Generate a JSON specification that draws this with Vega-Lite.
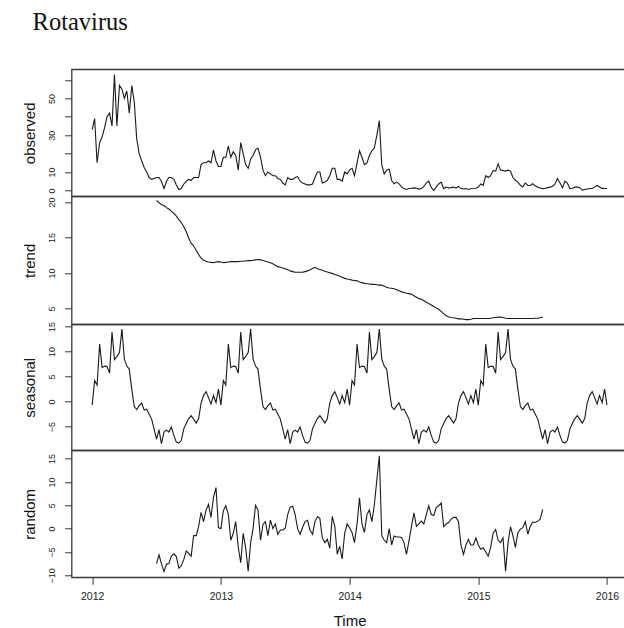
{
  "$schema": "https://vega.github.io/schema/vega-lite/v6.json",
  "padding": {"left": 21.6, "top": 9.3, "right": 0, "bottom": 0},
  "title": {
    "text": "Rotavirus",
    "font": "Liberation Serif",
    "fontSize": 24.5,
    "fontWeight": "normal",
    "color": "#111111",
    "anchor": "start",
    "frame": "group",
    "dx": -39,
    "offset": 33
  },
  "data": {
    "values": [
      {"time": 2012.000, "observed": 33, "seasonal": -0.7},
      {"time": 2012.019, "observed": 39, "seasonal": 4.2},
      {"time": 2012.038, "observed": 15, "seasonal": 3.3},
      {"time": 2012.058, "observed": 26, "seasonal": 11.5},
      {"time": 2012.077, "observed": 29, "seasonal": 6.8},
      {"time": 2012.096, "observed": 34, "seasonal": 7.1},
      {"time": 2012.115, "observed": 40, "seasonal": 7.0},
      {"time": 2012.135, "observed": 42, "seasonal": 5.7},
      {"time": 2012.154, "observed": 35, "seasonal": 13.9},
      {"time": 2012.173, "observed": 63, "seasonal": 8.4},
      {"time": 2012.192, "observed": 35, "seasonal": 9.0},
      {"time": 2012.212, "observed": 57, "seasonal": 9.8},
      {"time": 2012.231, "observed": 55, "seasonal": 14.5},
      {"time": 2012.250, "observed": 50, "seasonal": 8.5},
      {"time": 2012.269, "observed": 54, "seasonal": 7.1},
      {"time": 2012.288, "observed": 42, "seasonal": 6.5},
      {"time": 2012.308, "observed": 57, "seasonal": 2.4},
      {"time": 2012.327, "observed": 48, "seasonal": -1.0},
      {"time": 2012.346, "observed": 28, "seasonal": -1.6},
      {"time": 2012.365, "observed": 20, "seasonal": -0.8},
      {"time": 2012.385, "observed": 16, "seasonal": -0.3},
      {"time": 2012.404, "observed": 12.5, "seasonal": -1.7},
      {"time": 2012.423, "observed": 10, "seasonal": -1.5},
      {"time": 2012.442, "observed": 7, "seasonal": -2.5},
      {"time": 2012.462, "observed": 6, "seasonal": -3.5},
      {"time": 2012.481, "observed": 6.5, "seasonal": -5.5},
      {"time": 2012.500, "observed": 7, "seasonal": -7.5, "trend": 20.2, "random": -7.5},
      {"time": 2012.519, "observed": 7, "seasonal": -5.6, "trend": 19.9, "random": -5.6},
      {"time": 2012.538, "observed": 5, "seasonal": -8.4, "trend": 19.6, "random": -7.5},
      {"time": 2012.558, "observed": 1, "seasonal": -6.1, "trend": 19.5, "random": -9.2},
      {"time": 2012.577, "observed": 5, "seasonal": -5.7, "trend": 19.2, "random": -7.6},
      {"time": 2012.596, "observed": 7, "seasonal": -6.1, "trend": 19.0, "random": -7.5},
      {"time": 2012.615, "observed": 7, "seasonal": -5.1, "trend": 18.7, "random": -5.9},
      {"time": 2012.635, "observed": 6, "seasonal": -6.8, "trend": 18.4, "random": -5.4},
      {"time": 2012.654, "observed": 3, "seasonal": -8.1, "trend": 18.0, "random": -6.0},
      {"time": 2012.673, "observed": 0.5, "seasonal": -8.3, "trend": 17.5, "random": -8.5},
      {"time": 2012.692, "observed": 1, "seasonal": -7.8, "trend": 17.1, "random": -8.0},
      {"time": 2012.712, "observed": 3.5, "seasonal": -5.4, "trend": 16.5, "random": -6.6},
      {"time": 2012.731, "observed": 5, "seasonal": -4.4, "trend": 15.8, "random": -4.8},
      {"time": 2012.750, "observed": 6, "seasonal": -3.4, "trend": 14.9, "random": -5.3},
      {"time": 2012.769, "observed": 5.5, "seasonal": -2.8, "trend": 14.2, "random": -5.9},
      {"time": 2012.788, "observed": 7, "seasonal": -3.5, "trend": 13.8, "random": -1.5},
      {"time": 2012.808, "observed": 7, "seasonal": -4.3, "trend": 13.2, "random": -1.5},
      {"time": 2012.827, "observed": 7, "seasonal": -3.4, "trend": 12.6, "random": 0.5},
      {"time": 2012.846, "observed": 14, "seasonal": -0.3, "trend": 12.1, "random": 3.5},
      {"time": 2012.865, "observed": 15, "seasonal": 1.2, "trend": 11.8, "random": 1.5},
      {"time": 2012.885, "observed": 15, "seasonal": 2.0, "trend": 11.65, "random": 4.0},
      {"time": 2012.904, "observed": 16, "seasonal": 0.8, "trend": 11.55, "random": 5.2},
      {"time": 2012.923, "observed": 15, "seasonal": -0.5, "trend": 11.5, "random": 2.4},
      {"time": 2012.942, "observed": 22, "seasonal": 1.2, "trend": 11.45, "random": 6.6},
      {"time": 2012.962, "observed": 16, "seasonal": -0.2, "trend": 11.55, "random": 8.8},
      {"time": 2012.981, "observed": 13, "seasonal": 2.5, "trend": 11.6, "random": 0.2},
      {"time": 2013.000, "observed": 13, "seasonal": -0.7, "trend": 11.55, "random": 0.0},
      {"time": 2013.019, "observed": 18, "seasonal": 4.2, "trend": 11.45, "random": 3.8},
      {"time": 2013.038, "observed": 18, "seasonal": 3.3, "trend": 11.5, "random": 4.9},
      {"time": 2013.058, "observed": 24, "seasonal": 11.5, "trend": 11.55, "random": 3.0},
      {"time": 2013.077, "observed": 18, "seasonal": 6.8, "trend": 11.6, "random": -2.5},
      {"time": 2013.096, "observed": 21, "seasonal": 7.1, "trend": 11.6, "random": -1.0},
      {"time": 2013.115, "observed": 19, "seasonal": 7.0, "trend": 11.6, "random": 1.5},
      {"time": 2013.135, "observed": 11, "seasonal": 5.7, "trend": 11.6, "random": -4.0},
      {"time": 2013.154, "observed": 26, "seasonal": 13.9, "trend": 11.65, "random": -7.3},
      {"time": 2013.173, "observed": 20, "seasonal": 8.4, "trend": 11.65, "random": -1.0},
      {"time": 2013.192, "observed": 14, "seasonal": 9.0, "trend": 11.7, "random": -4.0},
      {"time": 2013.212, "observed": 12, "seasonal": 9.8, "trend": 11.75, "random": -9.1},
      {"time": 2013.231, "observed": 17, "seasonal": 14.5, "trend": 11.75, "random": -3.0},
      {"time": 2013.250, "observed": 19, "seasonal": 8.5, "trend": 11.8, "random": 0.0},
      {"time": 2013.269, "observed": 22, "seasonal": 7.1, "trend": 11.85, "random": 5.0},
      {"time": 2013.288, "observed": 23, "seasonal": 6.5, "trend": 11.9, "random": 4.0},
      {"time": 2013.308, "observed": 18, "seasonal": 2.4, "trend": 11.85, "random": -2.5},
      {"time": 2013.327, "observed": 11, "seasonal": -1.0, "trend": 11.75, "random": 0.9},
      {"time": 2013.346, "observed": 8, "seasonal": -1.6, "trend": 11.65, "random": 1.5},
      {"time": 2013.365, "observed": 10, "seasonal": -0.8, "trend": 11.55, "random": -1.5},
      {"time": 2013.385, "observed": 9, "seasonal": -0.3, "trend": 11.45, "random": 1.8},
      {"time": 2013.404, "observed": 8, "seasonal": -1.7, "trend": 11.3, "random": 0.0},
      {"time": 2013.423, "observed": 8, "seasonal": -1.5, "trend": 11.1, "random": 1.0},
      {"time": 2013.442, "observed": 6.5, "seasonal": -2.5, "trend": 10.9, "random": -1.2},
      {"time": 2013.462, "observed": 6, "seasonal": -3.5, "trend": 10.8, "random": -0.3},
      {"time": 2013.481, "observed": 4, "seasonal": -5.5, "trend": 10.7, "random": -0.3},
      {"time": 2013.500, "observed": 3, "seasonal": -7.5, "trend": 10.6, "random": 0.1},
      {"time": 2013.519, "observed": 7, "seasonal": -5.6, "trend": 10.45, "random": 3.0},
      {"time": 2013.538, "observed": 6, "seasonal": -8.4, "trend": 10.3, "random": 4.6},
      {"time": 2013.558, "observed": 6, "seasonal": -6.1, "trend": 10.2, "random": 4.8},
      {"time": 2013.577, "observed": 7, "seasonal": -5.7, "trend": 10.1, "random": 3.0},
      {"time": 2013.596, "observed": 7.5, "seasonal": -6.1, "trend": 10.1, "random": 0.0},
      {"time": 2013.615, "observed": 5, "seasonal": -5.1, "trend": 10.1, "random": -1.2},
      {"time": 2013.635, "observed": 4, "seasonal": -6.8, "trend": 10.1, "random": 0.3},
      {"time": 2013.654, "observed": 3.5, "seasonal": -8.1, "trend": 10.2, "random": 1.5},
      {"time": 2013.673, "observed": 3, "seasonal": -8.3, "trend": 10.3, "random": 1.8},
      {"time": 2013.692, "observed": 3, "seasonal": -7.8, "trend": 10.45, "random": -0.3},
      {"time": 2013.712, "observed": 3.5, "seasonal": -5.4, "trend": 10.65, "random": -1.2},
      {"time": 2013.731, "observed": 7, "seasonal": -4.4, "trend": 10.8, "random": 1.5},
      {"time": 2013.750, "observed": 10, "seasonal": -3.4, "trend": 10.6, "random": 2.6},
      {"time": 2013.769, "observed": 10, "seasonal": -2.8, "trend": 10.5, "random": 2.2},
      {"time": 2013.788, "observed": 4, "seasonal": -3.5, "trend": 10.4, "random": -2.0},
      {"time": 2013.808, "observed": 4.5, "seasonal": -4.3, "trend": 10.25, "random": -3.0},
      {"time": 2013.827, "observed": 5.5, "seasonal": -3.4, "trend": 10.15, "random": -2.3},
      {"time": 2013.846, "observed": 8, "seasonal": -0.3, "trend": 10.05, "random": -4.2},
      {"time": 2013.865, "observed": 12, "seasonal": 1.2, "trend": 9.95, "random": 2.6},
      {"time": 2013.885, "observed": 12, "seasonal": 2.0, "trend": 9.8, "random": 0.5},
      {"time": 2013.904, "observed": 6, "seasonal": 0.8, "trend": 9.7, "random": -5.5},
      {"time": 2013.923, "observed": 6, "seasonal": -0.5, "trend": 9.55, "random": -3.8},
      {"time": 2013.942, "observed": 5, "seasonal": 1.2, "trend": 9.4, "random": -6.5},
      {"time": 2013.962, "observed": 10, "seasonal": -0.2, "trend": 9.25, "random": -1.0},
      {"time": 2013.981, "observed": 9, "seasonal": 2.5, "trend": 9.15, "random": 1.0},
      {"time": 2014.000, "observed": 11, "seasonal": -0.7, "trend": 9.1, "random": 0.2},
      {"time": 2014.019, "observed": 12, "seasonal": 4.2, "trend": 9.0, "random": -0.8},
      {"time": 2014.038, "observed": 8, "seasonal": 3.3, "trend": 8.95, "random": -3.0},
      {"time": 2014.058, "observed": 15, "seasonal": 11.5, "trend": 8.9, "random": 1.0},
      {"time": 2014.077, "observed": 21.5, "seasonal": 6.8, "trend": 8.75, "random": 6.6},
      {"time": 2014.096, "observed": 18, "seasonal": 7.1, "trend": 8.65, "random": 1.0},
      {"time": 2014.115, "observed": 14, "seasonal": 7.0, "trend": 8.55, "random": -0.8},
      {"time": 2014.135, "observed": 15, "seasonal": 5.7, "trend": 8.5, "random": 3.0},
      {"time": 2014.154, "observed": 19, "seasonal": 13.9, "trend": 8.45, "random": 4.0},
      {"time": 2014.173, "observed": 21.5, "seasonal": 8.4, "trend": 8.4, "random": 1.5},
      {"time": 2014.192, "observed": 23, "seasonal": 9.0, "trend": 8.4, "random": 5.0},
      {"time": 2014.212, "observed": 30, "seasonal": 9.8, "trend": 8.35, "random": 10.5},
      {"time": 2014.231, "observed": 38, "seasonal": 14.5, "trend": 8.3, "random": 15.6},
      {"time": 2014.250, "observed": 14, "seasonal": 8.5, "trend": 8.3, "random": -1.5},
      {"time": 2014.269, "observed": 9, "seasonal": 7.1, "trend": 8.15, "random": -2.5},
      {"time": 2014.288, "observed": 11, "seasonal": 6.5, "trend": 8.0, "random": -3.0},
      {"time": 2014.308, "observed": 11.5, "seasonal": 2.4, "trend": 7.9, "random": 0.0},
      {"time": 2014.327, "observed": 5.4, "seasonal": -1.0, "trend": 7.85, "random": -3.5},
      {"time": 2014.346, "observed": 3.6, "seasonal": -1.6, "trend": 7.8, "random": -1.6},
      {"time": 2014.365, "observed": 4.5, "seasonal": -0.8, "trend": 7.65, "random": -1.8},
      {"time": 2014.385, "observed": 3.6, "seasonal": -0.3, "trend": 7.5, "random": -1.8},
      {"time": 2014.404, "observed": 1.8, "seasonal": -1.7, "trend": 7.35, "random": -1.9},
      {"time": 2014.423, "observed": 1, "seasonal": -1.5, "trend": 7.25, "random": -3.0},
      {"time": 2014.442, "observed": 0.5, "seasonal": -2.5, "trend": 7.15, "random": -5.5},
      {"time": 2014.462, "observed": 1, "seasonal": -3.5, "trend": 7.1, "random": -2.5},
      {"time": 2014.481, "observed": 1.2, "seasonal": -5.5, "trend": 7.0, "random": 0.5},
      {"time": 2014.500, "observed": 1.4, "seasonal": -7.5, "trend": 6.8, "random": 3.4},
      {"time": 2014.519, "observed": 1.2, "seasonal": -5.6, "trend": 6.6, "random": 0.5},
      {"time": 2014.538, "observed": 0.7, "seasonal": -8.4, "trend": 6.4, "random": 1.0},
      {"time": 2014.558, "observed": 1, "seasonal": -6.1, "trend": 6.3, "random": 1.6},
      {"time": 2014.577, "observed": 2.2, "seasonal": -5.7, "trend": 6.1, "random": 1.0},
      {"time": 2014.596, "observed": 4, "seasonal": -6.1, "trend": 5.9, "random": 3.0},
      {"time": 2014.615, "observed": 5, "seasonal": -5.1, "trend": 5.7, "random": 4.9},
      {"time": 2014.635, "observed": 1.5, "seasonal": -6.8, "trend": 5.5, "random": 3.0},
      {"time": 2014.654, "observed": 0, "seasonal": -8.1, "trend": 5.3, "random": 2.8},
      {"time": 2014.673, "observed": 1.8, "seasonal": -8.3, "trend": 5.1, "random": 4.5},
      {"time": 2014.692, "observed": 3.5, "seasonal": -7.8, "trend": 4.9, "random": 4.9},
      {"time": 2014.712, "observed": 4.5, "seasonal": -5.4, "trend": 4.6, "random": 5.5},
      {"time": 2014.731, "observed": 1, "seasonal": -4.4, "trend": 4.3, "random": 0.4},
      {"time": 2014.750, "observed": 1.8, "seasonal": -3.4, "trend": 4.0, "random": 1.0},
      {"time": 2014.769, "observed": 1.4, "seasonal": -2.8, "trend": 3.85, "random": 1.3},
      {"time": 2014.788, "observed": 1.5, "seasonal": -3.5, "trend": 3.75, "random": 2.0},
      {"time": 2014.808, "observed": 1.8, "seasonal": -4.3, "trend": 3.7, "random": 2.4},
      {"time": 2014.827, "observed": 1.3, "seasonal": -3.4, "trend": 3.65, "random": 2.4},
      {"time": 2014.846, "observed": 2.2, "seasonal": -0.3, "trend": 3.55, "random": 1.5},
      {"time": 2014.865, "observed": 1, "seasonal": 1.2, "trend": 3.55, "random": -3.5},
      {"time": 2014.885, "observed": 0.8, "seasonal": 2.0, "trend": 3.5, "random": -5.5},
      {"time": 2014.904, "observed": 1, "seasonal": 0.8, "trend": 3.45, "random": -3.5},
      {"time": 2014.923, "observed": 0.5, "seasonal": -0.5, "trend": 3.45, "random": -2.3},
      {"time": 2014.942, "observed": 0.9, "seasonal": 1.2, "trend": 3.5, "random": -3.5},
      {"time": 2014.962, "observed": 1, "seasonal": -0.2, "trend": 3.6, "random": -3.5},
      {"time": 2014.981, "observed": 1.2, "seasonal": 2.5, "trend": 3.6, "random": -2.0},
      {"time": 2015.000, "observed": 1.8, "seasonal": -0.7, "trend": 3.6, "random": -3.5},
      {"time": 2015.019, "observed": 3.5, "seasonal": 4.2, "trend": 3.6, "random": -4.4},
      {"time": 2015.038, "observed": 2.7, "seasonal": 3.3, "trend": 3.6, "random": -4.1},
      {"time": 2015.058, "observed": 8, "seasonal": 11.5, "trend": 3.6, "random": -5.0},
      {"time": 2015.077, "observed": 7, "seasonal": 6.8, "trend": 3.6, "random": -5.9},
      {"time": 2015.096, "observed": 8, "seasonal": 7.1, "trend": 3.65, "random": -4.0},
      {"time": 2015.115, "observed": 10.8, "seasonal": 7.0, "trend": 3.7, "random": -1.0},
      {"time": 2015.135, "observed": 10.5, "seasonal": 5.7, "trend": 3.75, "random": -0.2},
      {"time": 2015.154, "observed": 14.4, "seasonal": 13.9, "trend": 3.8, "random": -2.5},
      {"time": 2015.173, "observed": 11, "seasonal": 8.4, "trend": 3.8, "random": -3.0},
      {"time": 2015.192, "observed": 10.8, "seasonal": 9.0, "trend": 3.75, "random": -2.0},
      {"time": 2015.212, "observed": 10.5, "seasonal": 9.8, "trend": 3.65, "random": -9.1},
      {"time": 2015.231, "observed": 11, "seasonal": 14.5, "trend": 3.6, "random": -3.0},
      {"time": 2015.250, "observed": 10.5, "seasonal": 8.5, "trend": 3.6, "random": 0.4},
      {"time": 2015.269, "observed": 7, "seasonal": 7.1, "trend": 3.6, "random": -1.5},
      {"time": 2015.288, "observed": 5.5, "seasonal": 6.5, "trend": 3.6, "random": -4.0},
      {"time": 2015.308, "observed": 4.5, "seasonal": 2.4, "trend": 3.6, "random": -0.8},
      {"time": 2015.327, "observed": 2.8, "seasonal": -1.0, "trend": 3.6, "random": -0.1},
      {"time": 2015.346, "observed": 1.9, "seasonal": -1.6, "trend": 3.6, "random": 0.2},
      {"time": 2015.365, "observed": 4, "seasonal": -0.8, "trend": 3.6, "random": 1.5},
      {"time": 2015.385, "observed": 2.7, "seasonal": -0.3, "trend": 3.6, "random": -1.2},
      {"time": 2015.404, "observed": 2.7, "seasonal": -1.7, "trend": 3.6, "random": 0.5},
      {"time": 2015.423, "observed": 3.6, "seasonal": -1.5, "trend": 3.6, "random": 1.4},
      {"time": 2015.442, "observed": 2.5, "seasonal": -2.5, "trend": 3.65, "random": 1.3},
      {"time": 2015.462, "observed": 1.7, "seasonal": -3.5, "trend": 3.65, "random": 1.6},
      {"time": 2015.481, "observed": 1.3, "seasonal": -5.5, "trend": 3.7, "random": 2.0},
      {"time": 2015.500, "observed": 1, "seasonal": -7.5, "trend": 3.8, "random": 4.1},
      {"time": 2015.519, "observed": 1.2, "seasonal": -5.6},
      {"time": 2015.538, "observed": 1.5, "seasonal": -8.4},
      {"time": 2015.558, "observed": 1.8, "seasonal": -6.1},
      {"time": 2015.577, "observed": 2.3, "seasonal": -5.7},
      {"time": 2015.596, "observed": 3.5, "seasonal": -6.1},
      {"time": 2015.615, "observed": 6.5, "seasonal": -5.1},
      {"time": 2015.635, "observed": 4, "seasonal": -6.8},
      {"time": 2015.654, "observed": 1.5, "seasonal": -8.1},
      {"time": 2015.673, "observed": 5, "seasonal": -8.3},
      {"time": 2015.692, "observed": 4, "seasonal": -7.8},
      {"time": 2015.712, "observed": 1, "seasonal": -5.4},
      {"time": 2015.731, "observed": 1.2, "seasonal": -4.4},
      {"time": 2015.750, "observed": 1.8, "seasonal": -3.4},
      {"time": 2015.769, "observed": 1.8, "seasonal": -2.8},
      {"time": 2015.788, "observed": 1.5, "seasonal": -3.5},
      {"time": 2015.808, "observed": 0.2, "seasonal": -4.3},
      {"time": 2015.827, "observed": 0.5, "seasonal": -3.4},
      {"time": 2015.846, "observed": 0.8, "seasonal": -0.3},
      {"time": 2015.865, "observed": 1, "seasonal": 1.2},
      {"time": 2015.885, "observed": 1, "seasonal": 2.0},
      {"time": 2015.904, "observed": 1.8, "seasonal": 0.8},
      {"time": 2015.923, "observed": 2.7, "seasonal": -0.5},
      {"time": 2015.942, "observed": 1.9, "seasonal": 1.2},
      {"time": 2015.962, "observed": 1.1, "seasonal": -0.2},
      {"time": 2015.981, "observed": 1, "seasonal": 2.5},
      {"time": 2016.000, "observed": 1, "seasonal": -0.7}
    ]
  },
  "spacing": 0,
  "bounds": "flush",
  "vconcat": [
    {
      "width": 556,
      "height": 127,
      "mark": {"type": "line"},
      "encoding": {
        "x": {"field": "time", "type": "quantitative", "scale": {"domain": [2011.84, 2016.16], "nice": false, "zero": false}, "axis": null},
        "y": {
          "field": "observed", "type": "quantitative",
          "scale": {"domain": [-3.2, 65.8], "nice": false, "zero": false},
          "axis": {"title": "observed", "values": [0, 10, 20, 30, 40, 50, 60], "labelExpr": "datum.value == 20 || datum.value == 40 || datum.value == 60 ? '' : datum.label"}
        }
      }
    },
    {
      "width": 556,
      "height": 128,
      "mark": {"type": "line"},
      "encoding": {
        "x": {"field": "time", "type": "quantitative", "scale": {"domain": [2011.84, 2016.16], "nice": false, "zero": false}, "axis": null},
        "y": {
          "field": "trend", "type": "quantitative",
          "scale": {"domain": [2.79, 20.79], "nice": false, "zero": false},
          "axis": {"title": "trend", "values": [5, 10, 15, 20]}
        }
      }
    },
    {
      "width": 556,
      "height": 126,
      "mark": {"type": "line"},
      "encoding": {
        "x": {"field": "time", "type": "quantitative", "scale": {"domain": [2011.84, 2016.16], "nice": false, "zero": false}, "axis": null},
        "y": {
          "field": "seasonal", "type": "quantitative",
          "scale": {"domain": [-9.74, 15.46], "nice": false, "zero": false},
          "axis": {"title": "seasonal", "values": [-5, 0, 5, 10, 15]}
        }
      }
    },
    {
      "width": 556,
      "height": 127,
      "mark": {"type": "line"},
      "encoding": {
        "x": {
          "field": "time", "type": "quantitative",
          "scale": {"domain": [2011.84, 2016.16], "nice": false, "zero": false},
          "axis": {"title": "Time", "values": [2012, 2013, 2014, 2015, 2016], "format": "d"}
        },
        "y": {
          "field": "random", "type": "quantitative",
          "scale": {"domain": [-10.43, 16.78], "nice": false, "zero": false},
          "axis": {"title": "random", "values": [-10, -5, 0, 5, 10, 15]}
        }
      }
    }
  ],
  "config": {
    "font": "Liberation Sans",
    "background": "white",
    "view": {"stroke": "#3a3a3a", "strokeWidth": 1.3},
    "line": {"color": "#1a1a1a", "strokeWidth": 1.1},
    "axis": {
      "domain": false,
      "grid": false,
      "ticks": true,
      "tickSize": 7,
      "tickColor": "#333333",
      "tickWidth": 1,
      "labelFont": "Liberation Sans",
      "labelColor": "#222222",
      "titleFont": "Liberation Sans",
      "titleFontSize": 15,
      "titleFontWeight": "normal",
      "titleColor": "#111111",
      "labelOverlap": false,
      "labelFlush": false
    },
    "axisY": {
      "labelAngle": 270,
      "labelAlign": "center",
      "labelBaseline": "bottom",
      "labelFontSize": 9,
      "labelPadding": 8,
      "minExtent": 20,
      "maxExtent": 20,
      "titlePadding": 14.35
    },
    "axisX": {
      "labelFontSize": 10.5,
      "labelPadding": 7,
      "minExtent": 24.5,
      "maxExtent": 24.5,
      "titlePadding": 12.1
    }
  }
}
